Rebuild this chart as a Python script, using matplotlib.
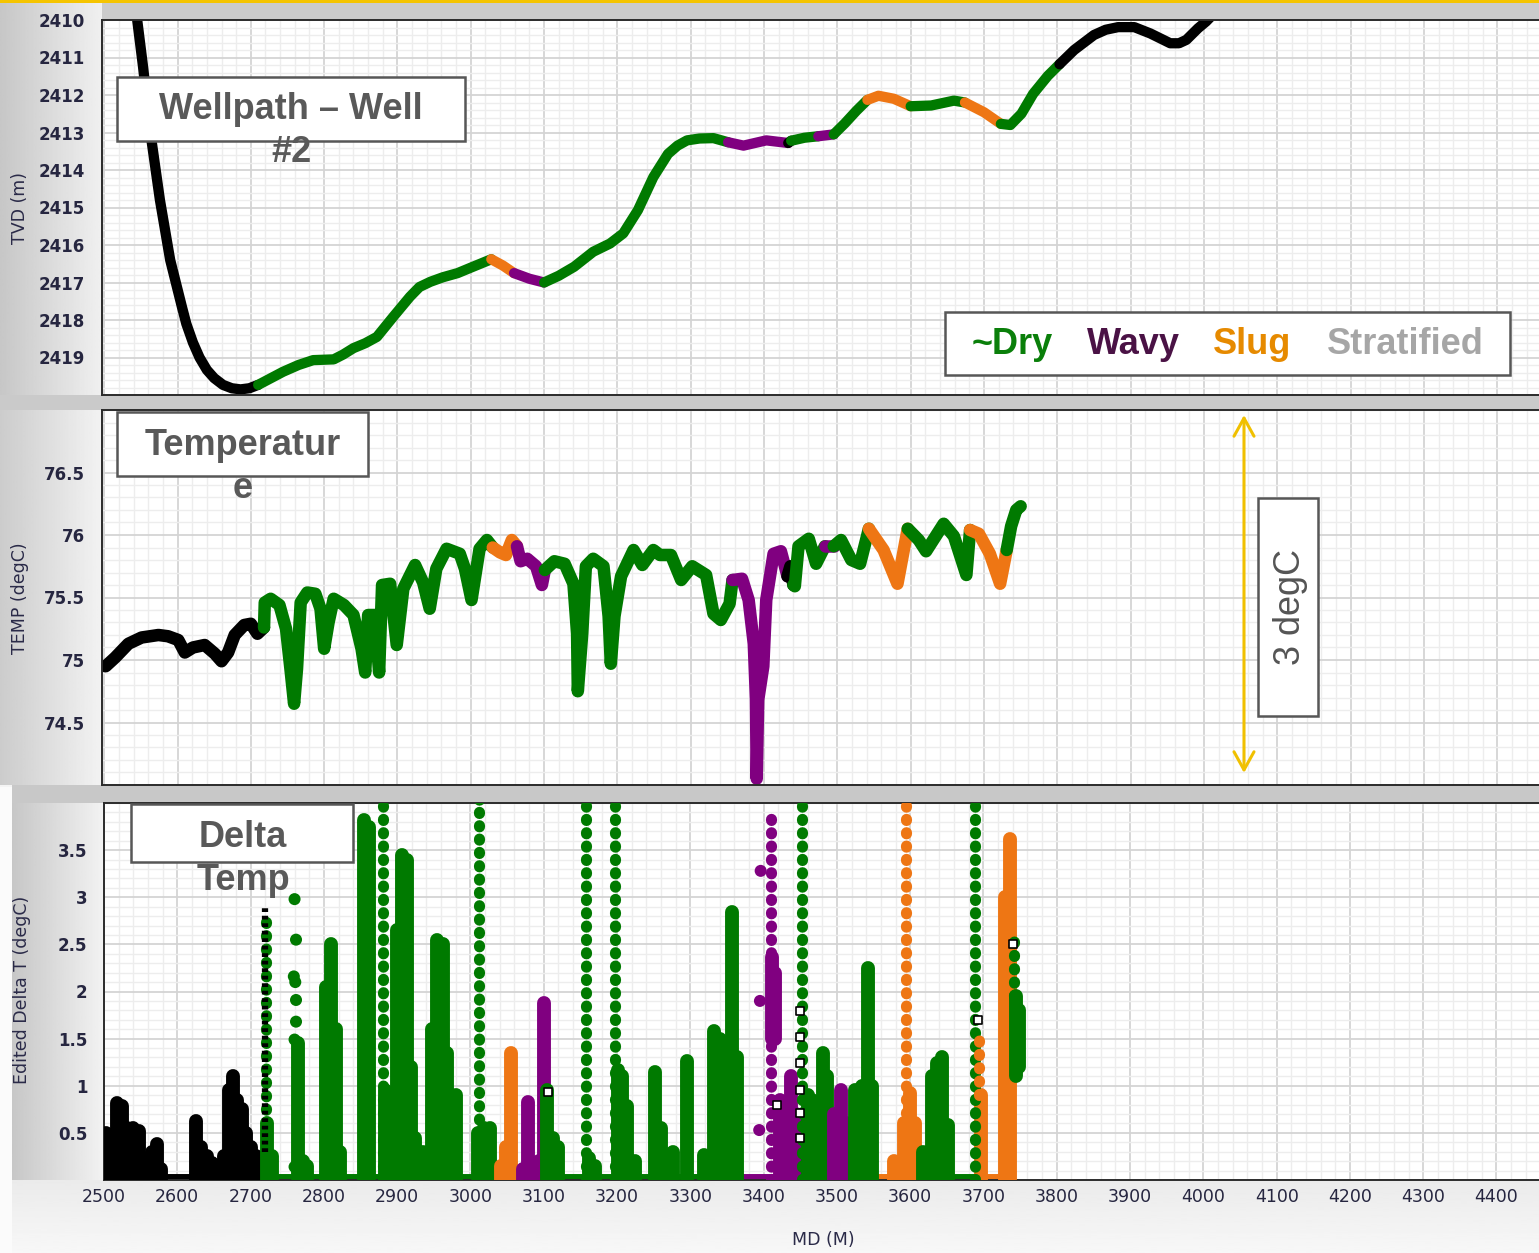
import matplotlib
matplotlib.use("Agg")
import matplotlib.pyplot as plt
import numpy as np
from matplotlib.patches import Rectangle, FancyArrowPatch
from matplotlib.ticker import FixedLocator, MultipleLocator, AutoMinorLocator

W, H = 1539, 1253

# flow regime codes: u = unclassified, d = ~dry, w = wavy, s = slug
flow_colors = {"u": "black", "d": "#007a00", "w": "#800080", "s": "#ee7614"}

# ---------------- wellpath (MD vs TVD) ----------------
well_md = [2540, 2545, 2553, 2563, 2576, 2590, 2606, 2612, 2621, 2630, 2640, 2650, 2662, 2674, 2686, 2698, 2710,
           2744, 2765, 2785, 2813, 2826, 2840, 2856, 2872, 2894, 2917, 2930, 2945, 2962, 2982, 3003, 3028,
           3044, 3059,
           3080, 3100,
           3120, 3141, 3167, 3190, 3208, 3228, 3249, 3269, 3282, 3295, 3312, 3331, 3351,
           3372, 3403, 3433,
           3437,
           3455, 3474,
           3495,
           3510, 3526, 3541,
           3556, 3577, 3600,
           3628, 3659, 3674,
           3700, 3723,
           3736, 3751, 3767, 3787, 3803,
           3823, 3850, 3866, 3883, 3905, 3927, 3954, 3966, 3976, 3992, 4003, 4015]
well_tvd = [2408.6, 2410.0, 2411.25, 2413.0, 2414.8, 2416.4, 2417.65, 2418.1, 2418.6, 2419.0, 2419.33, 2419.55, 2419.73,
            2419.82, 2419.85, 2419.82, 2419.73,
            2419.38, 2419.2, 2419.07, 2419.05, 2418.92, 2418.75, 2418.62, 2418.45, 2417.92, 2417.38, 2417.12, 2416.98,
            2416.86, 2416.75, 2416.58, 2416.38,
            2416.55, 2416.75,
            2416.9, 2417.0,
            2416.82, 2416.58, 2416.18, 2415.96, 2415.69, 2415.07, 2414.19, 2413.57, 2413.35, 2413.21, 2413.16, 2413.15,
            2413.26,
            2413.35, 2413.21, 2413.28,
            2413.22,
            2413.14, 2413.1,
            2413.05,
            2412.76, 2412.42, 2412.13,
            2412.02, 2412.1, 2412.3,
            2412.28, 2412.15, 2412.2,
            2412.46, 2412.77,
            2412.8, 2412.5, 2411.97, 2411.49, 2411.18,
            2410.8, 2410.4, 2410.26, 2410.19, 2410.19, 2410.36, 2410.62, 2410.62, 2410.53, 2410.22, 2410.04, 2409.8]
well_flow = list("u" * 17 + "d" * 16 + "s" * 2 + "w" * 2 + "d" * 13 + "w" * 3 + "u" + "d" * 2 + "w"
                 + "d" * 3 + "s" * 3 + "d" * 3 + "s" * 2 + "d" * 5 + "u" * 12)

# ---------------- temperature ----------------
temp_md = [2502, 2515, 2533, 2551, 2574, 2587, 2601, 2610, 2621, 2637, 2651, 2660, 2669, 2678, 2691, 2700, 2709, 2718,
           2719, 2727, 2739, 2748, 2754, 2759, 2763, 2768, 2777, 2788, 2795, 2800, 2806, 2813, 2827, 2840, 2851,
           2856, 2860, 2869, 2875, 2879, 2890, 2899, 2908, 2924, 2935, 2944, 2953, 2967, 2985, 2992, 3001, 3012,
           3022, 3030,
           3040, 3048, 3056, 3063,
           3068, 3077, 3089, 3097, 3101,
           3114, 3128, 3140, 3145, 3146, 3152, 3157, 3167, 3181, 3188, 3191, 3196, 3205, 3222, 3234, 3249, 3258,
           3273, 3287, 3302, 3321, 3331, 3341, 3353, 3357,
           3370, 3379, 3386, 3389, 3390, 3392, 3399, 3403, 3413, 3423, 3432,
           3436, 3440,
           3442, 3447, 3461, 3471, 3483,
           3495,
           3505, 3519, 3531, 3543,
           3563, 3582, 3596,
           3611, 3621, 3645, 3659, 3676, 3681,
           3693, 3708, 3722, 3731,
           3737, 3744, 3750]
temp_val = [74.95, 75.02, 75.13, 75.18, 75.2, 75.19, 75.16, 75.06, 75.1, 75.12, 75.05, 74.99, 75.06, 75.2, 75.28, 75.29, 75.21, 75.26,
            75.46, 75.49, 75.44, 75.25, 74.93, 74.65, 74.93, 75.46, 75.54, 75.53, 75.41, 75.09, 75.3, 75.49, 75.44, 75.36, 75.09,
            74.9, 75.36, 75.36, 74.9, 75.6, 75.61, 75.12, 75.57, 75.76, 75.62, 75.41, 75.73, 75.89, 75.85, 75.73, 75.48, 75.89,
            75.96, 75.9,
            75.86, 75.84, 75.96, 75.91,
            75.79, 75.81, 75.75, 75.6, 75.72,
            75.79, 75.77, 75.61, 75.21, 74.75, 75.21, 75.75, 75.81, 75.75, 75.35, 74.97, 75.35, 75.67, 75.88, 75.76, 75.88, 75.84,
            75.84, 75.64, 75.75, 75.68, 75.37, 75.32, 75.45, 75.64,
            75.65, 75.48, 75.13, 74.68, 74.05, 74.68, 74.95, 75.48, 75.85, 75.87, 75.67,
            75.75, 75.6,
            75.59, 75.91, 75.97, 75.77, 75.91,
            75.91,
            75.96, 75.8, 75.77, 76.05,
            75.88, 75.61, 76.05,
            75.96, 75.87, 76.09, 75.99, 75.68, 76.04,
            76.01, 75.85, 75.61, 75.88,
            76.07, 76.2, 76.23]
temp_flow = list("u" * 18 + "d" * 36 + "s" * 4 + "w" * 5 + "d" * 25 + "w" * 11 + "u" * 2 + "d" * 5 + "w"
                 + "d" * 4 + "s" * 3 + "d" * 6 + "s" * 4 + "d" * 3)

# ---------------- delta T ----------------
# dense stacks of readings: md, lowest and highest value, regime
dense_md = [2503, 2510, 2518, 2524, 2532, 2540, 2548, 2556, 2565, 2572, 2578, 2625, 2632, 2640, 2648, 2656, 2664,
            2671, 2676, 2682, 2688, 2694, 2700, 2707, 2713,
            2723, 2729, 2765, 2771, 2777, 2803, 2810, 2816, 2822, 2855, 2862, 2883, 2900, 2907, 2913, 2919, 2925,
            2935, 2947, 2955, 2962, 2968, 2974, 2980, 3010, 3018, 3026,
            3042, 3048, 3055,
            3072, 3078, 3094, 3101,
            3105, 3112, 3120, 3162, 3170, 3201, 3207, 3213, 3225, 3252, 3260, 3277, 3296, 3318, 3333, 3340, 3347,
            3357, 3364,
            3411, 3416, 3422, 3428, 3438, 3444,
            3460, 3466, 3472, 3481, 3486, 3512, 3525, 3534, 3542, 3548,
            3496, 3506,
            3578, 3592, 3600, 3606,
            3618, 3630, 3636, 3644, 3652,
            3696, 3730, 3736,
            3745, 3749]
dense_lo = ([0.0] * 78 + [1.5, 1.5] + [0.0] * 28 + [1.1, 1.2])
dense_hi = [0.5, 0.45, 0.82, 0.78, 0.55, 0.55, 0.52, 0.2, 0.3, 0.38, 0.12, 0.63, 0.35, 0.25, 0.18, 0.15, 0.25,
            0.95, 1.1, 0.85, 0.75, 0.5, 0.35, 0.25, 0.15,
            0.6, 0.25, 1.45, 0.2, 0.15, 2.05, 2.5, 1.6, 0.3, 3.82, 3.75, 0.95, 2.65, 3.45, 3.4, 1.2, 0.45,
            0.3, 1.6, 2.55, 2.5, 1.35, 0.9, 0.9, 0.5, 0.55, 0.55,
            0.15, 0.35, 1.35,
            0.12, 0.83, 0.2, 1.88,
            0.95, 0.45, 0.35, 0.23, 0.15, 1.17, 1.1, 0.78, 0.2, 1.15, 0.55, 0.3, 1.26, 0.27, 1.58, 1.5, 1.3,
            2.84, 1.3,
            2.37, 2.2, 0.85, 0.6, 1.1, 0.7,
            0.9, 0.85, 0.6, 1.35, 1.1, 0.6, 0.95, 1.0, 2.25, 1.0,
            0.7, 0.95,
            0.2, 0.6, 0.92, 0.6,
            0.3, 1.1, 1.24, 1.31, 0.58,
            0.9, 3.0, 3.62,
            1.95, 1.8]
dense_flow = list("u" * 25 + "d" * 27 + "s" * 3 + "w" * 4 + "d" * 19 + "w" * 6 + "d" * 10 + "w" * 2
                  + "s" * 4 + "d" * 5 + "s" * 3 + "d" * 2)

# sparse readings spread up a column
sparse_md = [2719, 2721, 2881, 3011, 3158, 3197, 3410, 3453, 3594, 3689, 3694, 3741]
sparse_lo = [0.3, 0.6, 0.0, 0.5, 0.0, 0.0, 0.0, 0.0, 0.0, 0.0, 0.9, 1.95]
sparse_hi = [2.9, 2.75, 4.1, 4.1, 4.1, 4.1, 3.85, 4.1, 4.1, 4.1, 1.6, 2.6]
sparse_flow = ["u", "d", "d", "d", "d", "d", "w", "d", "s", "d", "s", "d"]

# single readings
single_md = [2760, 2762, 2759, 2761, 2762, 2762, 2760, 2760, 3396, 3395, 3394]
single_dt = [2.98, 2.55, 2.16, 2.1, 1.91, 1.68, 1.49, 0.14, 3.28, 1.9, 0.53]
single_flow = ["d"] * 8 + ["w"] * 3

# readings lying on zero
flat_start = [2500, 2720, 3040, 3068, 3100, 3360, 3450, 3548, 3606, 3700]
flat_end = [2720, 3040, 3068, 3100, 3360, 3450, 3548, 3590, 3690, 3728]
flat_flow = ["u", "d", "s", "w", "d", "w", "d", "s", "d", "s"]

# unflagged readings
open_md = [3106, 3418, 3450, 3450, 3450, 3450, 3450, 3450, 3692, 3740]
open_dt = [0.93, 0.8, 1.79, 1.52, 1.24, 0.96, 0.71, 0.45, 1.7, 2.5]

md_ticks = list(range(2500, 4500, 100))
tvd_ticks = list(range(2410, 2420))
temp_ticks = [74.5, 75, 75.5, 76, 76.5]
temp_labels = ["74.5", "75", "75.5", "76", "76.5"]
dt_ticks = [0.5, 1, 1.5, 2, 2.5, 3, 3.5]
dt_labels = ["0.5", "1", "1.5", "2", "2.5", "3", "3.5"]

legend_words = ["~Dry", "Wavy", "Slug", "Stratified"]
legend_colors = ["#0a7f0a", "#4a1245", "#e68a00", "#a6a6a6"]

TICK_C = "#262640"
TITLE_C = "#595959"


def fx(x):
    return x / W


def fy(y):
    return 1 - y / H


def panel(left, top, right, bottom):
    return fig.add_axes([fx(left), fy(bottom), (right - left) / W, (bottom - top) / H])


def style_axes(ax):
    ax.set_facecolor("white")
    ax.xaxis.set_minor_locator(AutoMinorLocator(5))
    ax.yaxis.set_minor_locator(AutoMinorLocator(5))
    ax.grid(which="major", color="#d4d4d4", lw=1.3)
    ax.grid(which="minor", color="#ededed", lw=1.0)
    ax.set_axisbelow(True)
    ax.tick_params(which="both", length=0)
    ax.spines["right"].set_visible(False)
    for s in ("top", "left", "bottom"):
        ax.spines[s].set_color("#2b2b2b")
        ax.spines[s].set_linewidth(1.4)


def plot_flow_line(ax, md, val, flow, lw):
    start = 0
    n = len(md)
    for i in range(1, n + 1):
        if i == n or flow[i] != flow[start]:
            s = max(start - 1, 0)
            ax.plot(md[s:i], val[s:i], color=flow_colors[flow[start]], lw=lw,
                    solid_capstyle="round", solid_joinstyle="round")
            start = i


def hgrad(ax, x0, x1, y0, y1, c0, c1):
    g = np.linspace(c0, c1, 64)[None, :]
    ax.imshow(g, extent=(x0, x1, y1, y0), cmap="gray", vmin=0, vmax=1,
              aspect="auto", interpolation="bilinear")


def vgrad(ax, x0, x1, y0, y1, c0, c1):
    g = np.linspace(c0, c1, 64)[:, None]
    ax.imshow(g, extent=(x0, x1, y1, y0), cmap="gray", vmin=0, vmax=1,
              aspect="auto", interpolation="bilinear", origin="upper")


fig = plt.figure(figsize=(W / 100, H / 100), dpi=100)
fig.patch.set_facecolor("#f4f4f4")

# background frame
bg = fig.add_axes([0, 0, 1, 1], zorder=-10)
bg.axis("off")
hgrad(bg, 0, 102, 0, 395, 0.78, 0.94)
hgrad(bg, 0, 102, 395, 785, 0.80, 0.95)
bg.add_patch(Rectangle((0, 787), 12, 466, color="#fbfbfb", lw=0))
hgrad(bg, 12, 104, 803, 1180, 0.78, 0.95)
vgrad(bg, 12, W, 1180, H, 0.92, 0.97)
bg.add_patch(Rectangle((102, 3), W - 102, 17, color="#cbcbcb", lw=0))
bg.add_patch(Rectangle((0, 395), W, 15, color="#cacaca", lw=0))
bg.add_patch(Rectangle((12, 785), W - 12, 18, color="#c8c8c8", lw=0))
bg.add_patch(Rectangle((0, 0), W, 3, color="#f5c400", lw=0))
bg.set_xlim(0, W)
bg.set_ylim(H, 0)

# wellpath panel
ax1 = panel(102, 20, W, 395)
style_axes(ax1)
plot_flow_line(ax1, well_md, well_tvd, well_flow, 7.4)
ax1.set_xlim(2497, 4457)
ax1.set_ylim(2420, 2410)
ax1.xaxis.set_major_locator(FixedLocator(md_ticks))
ax1.set_xticklabels([])
ax1.yaxis.set_major_locator(FixedLocator(tvd_ticks))
ax1.set_yticklabels([str(t) for t in tvd_ticks], fontsize=12, fontweight="bold", color=TICK_C)
ax1.tick_params(axis="y", pad=12)

# temperature panel
ax2 = panel(102, 410, W, 785)
style_axes(ax2)
plot_flow_line(ax2, temp_md, temp_val, temp_flow, 9)
ax2.set_xlim(2497, 4457)
ax2.set_ylim(74, 77)
ax2.xaxis.set_major_locator(FixedLocator(md_ticks))
ax2.set_xticklabels([])
ax2.yaxis.set_major_locator(FixedLocator(temp_ticks))
ax2.set_yticklabels(temp_labels, fontsize=12, fontweight="bold", color=TICK_C)
ax2.yaxis.set_minor_locator(MultipleLocator(0.1))
ax2.tick_params(axis="y", pad=12)

# delta T panel
ax3 = panel(104, 803, W, 1180)
style_axes(ax3)
ax3.hlines([0.03] * len(flat_start), flat_start, flat_end,
           colors=[flow_colors[f] for f in flat_flow], lw=5, zorder=2)
ax3.vlines(dense_md, dense_lo, dense_hi, colors=[flow_colors[f] for f in dense_flow],
           lw=10, capstyle="round", zorder=3)
keep = [i for i, f in enumerate(sparse_flow) if f != "u"]
dots = ax3.vlines([sparse_md[i] for i in keep], [sparse_lo[i] for i in keep], [sparse_hi[i] for i in keep],
                  colors=[flow_colors[sparse_flow[i]] for i in keep], lw=8,
                  linestyles=[(0, (0.1, 1.1))], zorder=4)
dots.set_capstyle("round")
unk = [i for i, f in enumerate(sparse_flow) if f == "u"]
ax3.vlines([sparse_md[i] for i in unk], [sparse_lo[i] for i in unk], [sparse_hi[i] for i in unk],
           colors="black", lw=4.5, linestyles=[(0, (0.6, 0.6))], zorder=4)
ax3.scatter(single_md, single_dt, s=75, c=[flow_colors[f] for f in single_flow], lw=0, zorder=5)
ax3.scatter(open_md, open_dt, s=28, marker="s", facecolors="white", edgecolors="black", lw=1.2, zorder=6)
ax3.set_xlim(2500, 4458)
ax3.set_ylim(0, 4)
ax3.xaxis.set_major_locator(FixedLocator(md_ticks))
ax3.set_xticklabels([str(t) for t in md_ticks], fontsize=12.5, color=TICK_C)
ax3.yaxis.set_major_locator(FixedLocator(dt_ticks))
ax3.set_yticklabels(dt_labels, fontsize=12, fontweight="bold", color=TICK_C)
ax3.yaxis.set_minor_locator(MultipleLocator(0.1))
ax3.tick_params(axis="y", pad=12)
ax3.tick_params(axis="x", pad=6)

# axis titles
lab = dict(fontsize=12.5, color="#2a2a48", ha="center", va="center")
fig.text(fx(20), fy(208), "TVD (m)", rotation=90, **lab)
fig.text(fx(20), fy(598), "TEMP (degC)", rotation=90, **lab)
fig.text(fx(22), fy(990), "Edited Delta T (degC)", rotation=90, **lab)
fig.text(fx(823), fy(1240), "MD (M)", **lab)


def label_box(x0, y0, x1, y1):
    fig.add_artist(Rectangle((fx(x0), fy(y1)), (x1 - x0) / W, (y1 - y0) / H, transform=fig.transFigure,
                             facecolor="white", edgecolor="#575757", lw=1.8, zorder=5))


title_font = dict(family="Liberation Sans", fontweight="bold", fontsize=26, color=TITLE_C,
                  ha="center", va="top", zorder=6, linespacing=1.3)
label_box(117, 77, 465, 141)
fig.text(fx(291), fy(92), "Wellpath – Well\n#2", **title_font)
label_box(117, 412, 368, 476)
fig.text(fx(243), fy(428), "Temperatur\ne", **title_font)
label_box(131, 804, 353, 862)
fig.text(fx(243), fy(820), "Delta\nTemp", **title_font)

# regime legend
label_box(945, 312, 1510, 375)
for word, col, x in zip(legend_words, legend_colors, [1012, 1133, 1252, 1405]):
    fig.text(fx(x), fy(345), word, family="Liberation Sans", fontweight="bold", fontsize=26,
             color=col, ha="center", va="center", zorder=6)

# temperature span marker
fig.add_artist(FancyArrowPatch((fx(1244), fy(773)), (fx(1244), fy(415)), transform=fig.transFigure,
                               arrowstyle="<->,head_length=0.65,head_width=0.36", mutation_scale=20,
                               color="#f0c000", lw=2.2, shrinkA=0, shrinkB=0, zorder=5))
label_box(1258, 498, 1318, 716)
fig.text(fx(1290), fy(607), "3 degC", family="Liberation Sans", fontsize=26, color="#555555",
         rotation=90, ha="center", va="center", zorder=6)

fig.savefig("out.png", dpi=100, facecolor=fig.get_facecolor())
